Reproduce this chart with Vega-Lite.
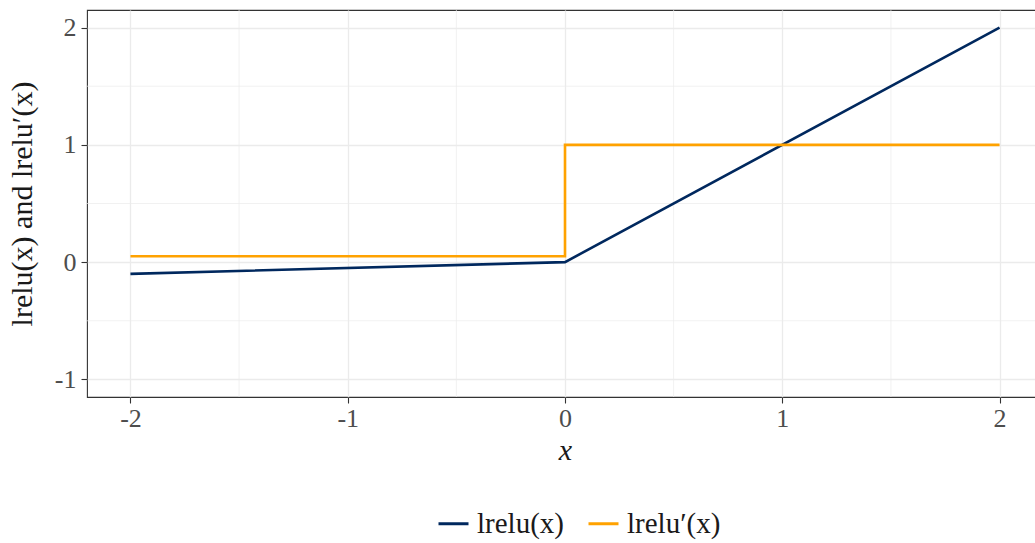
{
  "$schema": "https://vega.github.io/schema/vega-lite/v6.json",
  "autosize": "none",
  "width": 956,
  "height": 387,
  "padding": {"left": 87, "top": 10, "right": 0, "bottom": 146},
  "background": "white",
  "config": {
    "font": "Liberation Serif",
    "view": {"stroke": "#333333", "strokeWidth": 1.1},
    "axis": {
      "labelFont": "Liberation Serif",
      "titleFont": "Liberation Serif",
      "labelFontSize": 26,
      "titleFontSize": 29,
      "labelColor": "#4D4D4D",
      "titleColor": "#1A1A1A",
      "titleFontWeight": "normal",
      "tickColor": "#333333",
      "tickSize": 6,
      "tickWidth": 1.1,
      "domain": false,
      "gridColor": "#EBEBEB",
      "gridWidth": 1.3,
      "format": "d"
    },
    "legend": {
      "labelFont": "Liberation Serif",
      "labelFontSize": 29,
      "labelColor": "#1A1A1A"
    }
  },
  "datasets": {
    "curves": [
      {"x": -2, "y": -0.1, "fn": "lrelu(x)", "i": 0},
      {"x": 0, "y": 0, "fn": "lrelu(x)", "i": 1},
      {"x": 2, "y": 2, "fn": "lrelu(x)", "i": 2},
      {"x": -2, "y": 0.05, "fn": "lrelu′(x)", "i": 0},
      {"x": 0, "y": 0.05, "fn": "lrelu′(x)", "i": 1},
      {"x": 0, "y": 1, "fn": "lrelu′(x)", "i": 2},
      {"x": 2, "y": 1, "fn": "lrelu′(x)", "i": 3}
    ],
    "minorX": [{"v": -1.5}, {"v": -0.5}, {"v": 0.5}, {"v": 1.5}],
    "minorY": [{"v": -0.5}, {"v": 0.5}, {"v": 1.5}]
  },
  "layer": [
    {
      "data": {"name": "minorX"},
      "mark": {"type": "rule", "color": "#EBEBEB", "strokeWidth": 0.7},
      "encoding": {
        "x": {"field": "v", "type": "quantitative", "scale": {"domain": [-2.2, 2.2], "nice": false, "zero": false}}
      }
    },
    {
      "data": {"name": "minorY"},
      "mark": {"type": "rule", "color": "#EBEBEB", "strokeWidth": 0.7},
      "encoding": {
        "y": {"field": "v", "type": "quantitative", "scale": {"domain": [-1.15, 2.15], "nice": false, "zero": false}}
      }
    },
    {
      "data": {"name": "curves"},
      "mark": {"type": "line", "strokeWidth": 2.6, "strokeJoin": "miter", "clip": true},
      "encoding": {
        "x": {
          "field": "x",
          "type": "quantitative",
          "scale": {"domain": [-2.2, 2.2], "nice": false, "zero": false},
          "axis": {
            "values": [-2, -1, 0, 1, 2],
            "format": "d",
            "title": "x",
            "titleFont": "Liberation Serif",
            "titleFontStyle": "italic",
            "titleFontSize": 30,
            "labelPadding": 2,
            "titlePadding": 4,
            "labelExpr": "replace(datum.label, '−', '-')"
          }
        },
        "y": {
          "field": "y",
          "type": "quantitative",
          "scale": {"domain": [-1.15, 2.15], "nice": false, "zero": false},
          "axis": {
            "values": [-1, 0, 1, 2],
            "format": "d",
            "title": "lrelu(x) and lrelu′(x)",
            "titleFont": "Liberation Serif",
            "titleFontSize": 30,
            "titleColor": "#1A1A1A",
            "labelPadding": 5,
            "titlePadding": 17,
            "labelExpr": "replace(datum.label, '−', '-')"
          }
        },
        "color": {
          "field": "fn",
          "type": "nominal",
          "scale": {"domain": ["lrelu(x)", "lrelu′(x)"], "range": ["#00285E", "#FFA200"]},
          "legend": {
            "title": null,
            "orient": "none",
            "direction": "horizontal",
            "legendX": 350,
            "legendY": 497,
            "symbolType": "stroke",
            "symbolSize": 900,
            "symbolStrokeWidth": 3,
            "labelFont": "Liberation Serif",
            "labelOffset": 7,
            "columnPadding": 18
          }
        },
        "order": {"field": "i", "type": "quantitative"}
      }
    }
  ]
}
